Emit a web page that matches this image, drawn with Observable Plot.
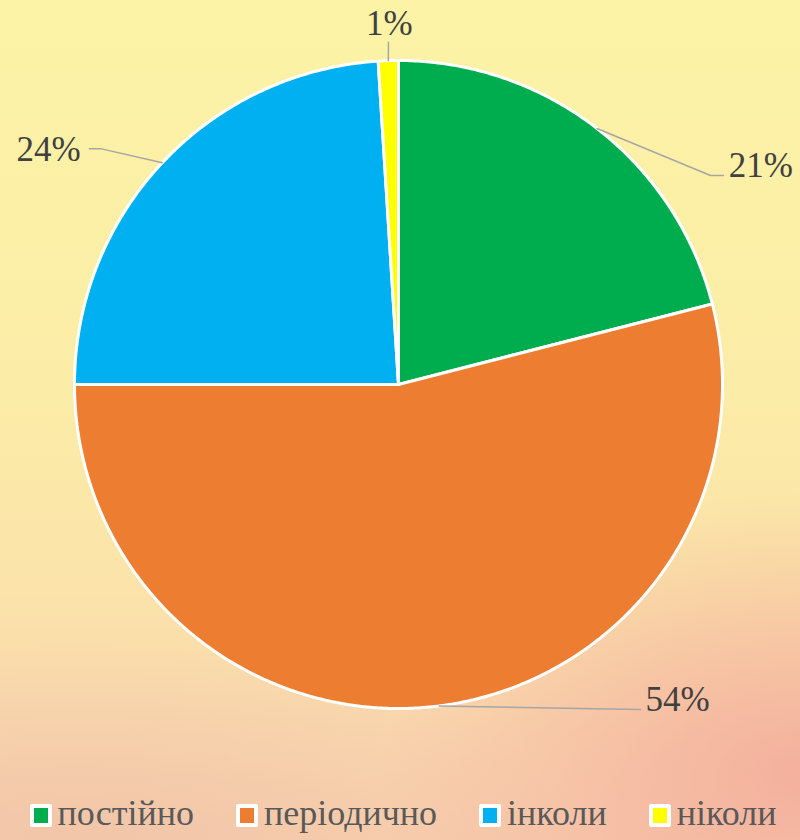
<!DOCTYPE html>
<html>
<head>
<meta charset="utf-8">
<script src="https://cdn.jsdelivr.net/npm/d3@7"></script>
<script src="https://cdn.jsdelivr.net/npm/@observablehq/plot@0.6"></script>
<style>
  html, body { margin: 0; padding: 0; width: 800px; height: 840px; overflow: hidden; }
  body {
    background:
      radial-gradient(ellipse 420px 280px at 100% 92%, rgba(243,172,155,0.9) 0%, rgba(243,172,155,0) 100%),
      radial-gradient(ellipse 500px 200px at 10% 100%, rgba(238,192,165,0.65) 0%, rgba(238,192,165,0) 100%),
      linear-gradient(to bottom, #fcf3a6 0%, #fbeda7 45%, #fbe3a9 70%, #f9d6ae 88%, #f8cfae 100%);
    font-family: "Liberation Serif", "Times New Roman", Tinos, "Noto Serif", FreeSerif, "Nimbus Roman", "DejaVu Serif", serif;
  }
  #chart svg { display: block; background: transparent; }
  #chart svg text { font-family: "Liberation Serif", "Times New Roman", Tinos, "Noto Serif", FreeSerif, "Nimbus Roman", "DejaVu Serif", serif; }
  #legend { height: 60px; display: flex; justify-content: center; align-items: flex-start; padding-left: 6px; box-sizing: border-box; }
  .item { display: flex; align-items: center; margin: 0 21px; color: #595959; font-size: 36px; line-height: 40px; padding-top: 13px; }
  .sw { width: 14px; height: 15px; border: 4px solid #ffffff; border-radius: 2px; margin-right: 6px; margin-top: 4px; }
</style>
</head>
<body>
<div id="chart"></div>
<div id="legend"></div>
<script>
const categories = ["постійно", "періодично", "інколи", "ніколи"];
const values = [21, 54, 24, 1];
const colors = ["#00ad4e", "#ed7d31", "#00b0f0", "#ffff00"];
const labelTexts = ["21%", "54%", "24%", "1%"];

// label layout (unit-circle coordinates): elbow points of leader lines and text anchors
const leaderElbows = [
  [[0.963, 0.645], [1.003, 0.645]],
  [[0.747, -1.003]],
  [[-0.920, 0.728], [-0.954, 0.728]],
  [[-0.031, 1.056]]
];
const labelPos = [[1.019, 0.676], [0.762, -0.972], [-0.981, 0.725], [-0.028, 1.114]];
const labelAnchor = ["start", "start", "end", "middle"];

const total = d3.sum(values);
let acc = 0;
const slices = values.map((v, i) => {
  const a0 = acc / total * 2 * Math.PI;
  acc += v;
  const a1 = acc / total * 2 * Math.PI;
  return {key: categories[i], value: v, a0, a1, mid: (a0 + a1) / 2, color: colors[i], i};
});

function slicePoints(s) {
  const pts = [{x: 0, y: 0}];
  const n = Math.max(2, Math.ceil((s.a1 - s.a0) / (Math.PI / 360)));
  for (let k = 0; k <= n; k++) {
    const a = s.a0 + (s.a1 - s.a0) * k / n;
    pts.push({x: Math.sin(a), y: Math.cos(a)});
  }
  pts.push({x: 0, y: 0});
  return pts;
}

const sliceMarks = slices.map(s =>
  Plot.line(slicePoints(s), {x: "x", y: "y", fill: s.color, stroke: "#ffffff", strokeWidth: 3, strokeLinejoin: "round", curve: "linear"})
);

const leaderMarks = slices.map(s => {
  const pts = [{x: Math.sin(s.mid), y: Math.cos(s.mid)}, ...leaderElbows[s.i].map(([x, y]) => ({x, y}))];
  return Plot.line(pts, {x: "x", y: "y", stroke: "#a6a6a6", strokeWidth: 1.5});
});

const textMarks = slices.map(s =>
  Plot.text([{x: labelPos[s.i][0], y: labelPos[s.i][1], t: labelTexts[s.i]}], {
    x: "x", y: "y", text: "t", textAnchor: labelAnchor[s.i],
    fill: "#404040", fontSize: 35
  })
);

const plot = Plot.plot({
  width: 800,
  height: 780,
  marginLeft: 74,
  marginRight: 78,
  marginTop: 60,
  marginBottom: 72,
  x: {domain: [-1, 1], axis: null},
  y: {domain: [-1, 1], axis: null},
  style: {background: "transparent", overflow: "visible"},
  marks: [...sliceMarks, ...leaderMarks, ...textMarks]
});
document.getElementById("chart").appendChild(plot);

const legend = document.getElementById("legend");
categories.forEach((c, i) => {
  const item = document.createElement("div");
  item.className = "item";
  const sw = document.createElement("span");
  sw.className = "sw";
  sw.style.background = colors[i];
  const tx = document.createElement("span");
  tx.textContent = c;
  item.appendChild(sw);
  item.appendChild(tx);
  legend.appendChild(item);
});
</script>
</body>
</html>
